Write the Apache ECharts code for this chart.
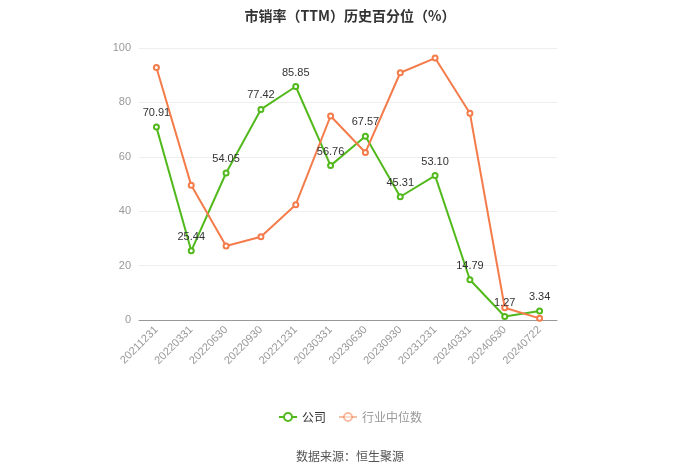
<!DOCTYPE html>
<html><head><meta charset="utf-8">
<script src="https://cdn.jsdelivr.net/npm/echarts@6/dist/echarts.min.js"></script>
<style>html,body{margin:0;padding:0;background:#fff}#c{width:700px;height:474px}</style>
</head><body><div id="c"></div>
<script>
var categories = ['20211231','20220331','20220630','20220930','20221231','20230331','20230630','20230930','20231231','20240331','20240630','20240722'];
var companyValues = [70.91,25.44,54.05,77.42,85.85,56.76,67.57,45.31,53.10,14.79,1.27,3.34];
var industryValues = [92.8,49.5,27.2,30.6,42.4,75.0,61.6,90.9,96.3,76.0,4.5,0.6];
var yTicks = [0,20,40,60,80,100];

var chart = echarts.init(document.getElementById('c'));
chart.setOption({
  animation:false,
  title:{text:'市销率（TTM）历史百分位（%）',left:'center',top:4,textStyle:{fontSize:14,fontWeight:'bold',color:'#333',fontFamily:'"Noto Sans CJK SC", sans-serif'}},
  grid:{left:139,right:143,top:48,bottom:154},
  legend:{bottom:46,left:'center',itemWidth:18,itemHeight:10,itemGap:12,textStyle:{fontSize:12,fontFamily:'"Noto Sans CJK SC", sans-serif'},
    data:[{name:'公司',textStyle:{color:'#333'}},{name:'行业中位数',textStyle:{color:'#999'},itemStyle:{opacity:0.5},lineStyle:{opacity:0.5}}]},
  graphic:[{type:'text',left:'center',top:450,style:{text:'数据来源：恒生聚源',fill:'#555',fontSize:12,fontFamily:'"Noto Sans CJK SC", sans-serif'}}],
  xAxis:{type:'category',data:categories,boundaryGap:true,
    axisTick:{alignWithLabel:true,lineStyle:{color:'#999'}},
    axisLine:{lineStyle:{color:'#999'}},
    axisLabel:{rotate:45,color:'#999',fontSize:11,interval:0,margin:8}},
  yAxis:{type:'value',min:yTicks[0],max:yTicks[yTicks.length-1],interval:20,
    axisLabel:{color:'#999',fontSize:11},
    splitLine:{lineStyle:{color:'#eee'}},axisLine:{show:false},axisTick:{show:false}},
  series:[
    {name:'公司',type:'line',data:companyValues,symbol:'emptyCircle',symbolSize:5,
      itemStyle:{color:'#52b91c'},lineStyle:{width:2,color:'#52b91c'},
      label:{show:true,position:'top',color:'#333',fontSize:11,formatter:function(p){return p.value.toFixed(2);}}},
    {name:'行业中位数',type:'line',data:industryValues,symbol:'emptyCircle',symbolSize:5,
      itemStyle:{color:'#f47b4a'},lineStyle:{width:2,color:'#f47b4a'}}
  ]
});
</script></body></html>
